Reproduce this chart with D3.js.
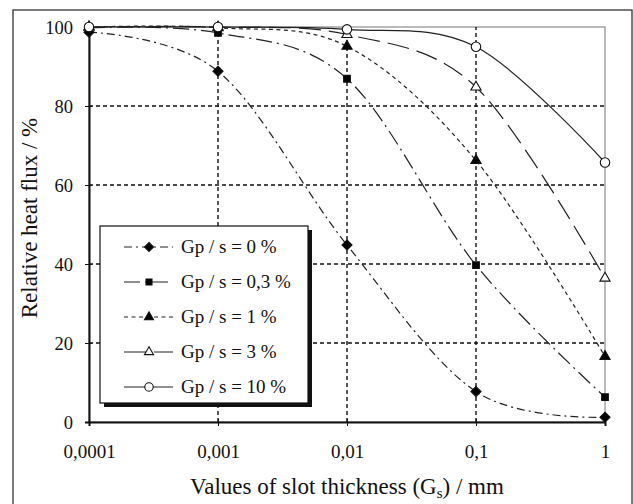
<!DOCTYPE html>
<html>
<head>
<meta charset="utf-8">
<script src="https://cdn.jsdelivr.net/npm/d3@7"></script>
<style>
  body { margin: 0; background: #fff; }
  svg text { font-family: "Liberation Serif", "Times New Roman", serif; fill: #111; }
</style>
</head>
<body>
<script>
// values
const thickness = [0.0001, 0.001, 0.01, 0.1, 1];
const xTickLabels = ["0,0001", "0,001", "0,01", "0,1", "1"];
const yTicks = [0, 20, 40, 60, 80, 100];
const gp0 = [98.7, 88.8, 44.8, 7.7, 1.2];
const gp03 = [99.8, 98.5, 86.9, 39.7, 6.3];
const gp1 = [100, 99.8, 95.1, 66.2, 16.6];
const gp3 = [100, 100, 98.1, 84.8, 36.4];
const gp10 = [100, 100, 99.4, 95.0, 65.7];
const seriesNames = ["Gp / s = 0 %", "Gp / s = 0,3 %", "Gp / s = 1 %", "Gp / s = 3 %", "Gp / s = 10 %"];

const diamond = { draw(ctx, size) { const r = Math.sqrt(size) / 2 * 1.3; ctx.moveTo(0, -r); ctx.lineTo(r, 0); ctx.lineTo(0, r); ctx.lineTo(-r, 0); ctx.closePath(); } };

const series = [
  { name: seriesNames[0], values: gp0, dash: "8,4,2,4", marker: diamond, size: 60, fill: "#000" },
  { name: seriesNames[1], values: gp03, dash: "16,5,2,5", marker: d3.symbolSquare, size: 45, fill: "#000" },
  { name: seriesNames[2], values: gp1, dash: "4,3.5", marker: d3.symbolTriangle, size: 45, fill: "#000" },
  { name: seriesNames[3], values: gp3, dash: "22,8", marker: d3.symbolTriangle, size: 45, fill: "#fff" },
  { name: seriesNames[4], values: gp10, dash: null, marker: d3.symbolCircle, size: 70, fill: "#fff" }
];

const W = 633, H = 504;
const svg = d3.select("body").append("svg").attr("width", W).attr("height", H);

// outer frame
svg.append("rect").attr("x", 13).attr("y", 10).attr("width", 619).attr("height", 510)
  .attr("fill", "none").attr("stroke", "#333").attr("stroke-width", 1.3);

const x = d3.scaleLog().domain([0.0001, 1]).range([89, 605]);
const y = d3.scaleLinear().domain([0, 100]).range([422, 27]);

// plot border (top/right)
svg.append("rect").attr("x", x(0.0001)).attr("y", y(100))
  .attr("width", x(1) - x(0.0001)).attr("height", y(0) - y(100))
  .attr("fill", "none").attr("stroke", "#777").attr("stroke-width", 1);

// grid
svg.append("g").selectAll("line").data(yTicks.filter(d => d > 0 && d < 100)).join("line")
  .attr("x1", x(0.0001)).attr("x2", x(1)).attr("y1", d => y(d)).attr("y2", d => y(d))
  .attr("stroke", "#111").attr("stroke-width", 1.4).attr("stroke-dasharray", "4,3");
svg.append("g").selectAll("line").data(thickness.slice(1, 4)).join("line")
  .attr("x1", d => x(d)).attr("x2", d => x(d)).attr("y1", y(0)).attr("y2", y(100))
  .attr("stroke", "#111").attr("stroke-width", 1.4).attr("stroke-dasharray", "4,3");

// axes
const xAxis = d3.axisBottom(x).tickValues(thickness).tickSize(4)
  .tickFormat((d, i) => xTickLabels[i]);
const gx = svg.append("g").attr("transform", `translate(0,${y(0)})`).call(xAxis);
gx.select(".domain").attr("stroke", "#111").attr("stroke-width", 2);
gx.selectAll(".tick line").attr("stroke", "#111").attr("y1", -3);
gx.selectAll(".tick text").attr("dy", 0).attr("y", 36).style("font-size", "19px")
  .style("font-family", "Liberation Serif");

const yAxis = d3.axisLeft(y).tickValues(yTicks).tickSize(4);
const gy = svg.append("g").attr("transform", `translate(${x(0.0001)},0)`).call(yAxis);
gy.select(".domain").attr("stroke", "#111").attr("stroke-width", 2);
gy.selectAll(".tick line").attr("stroke", "#111").attr("x1", 3);
gy.selectAll(".tick text").attr("x", -16).attr("dy", "0.34em").style("font-size", "18.5px")
  .style("font-family", "Liberation Serif");

// axis titles
const xt = svg.append("text").attr("x", 347).attr("y", 494).attr("text-anchor", "middle")
  .style("font-size", "23px");
xt.append("tspan").text("Values of slot thickness (G");
xt.append("tspan").text("s").attr("dy", 4).style("font-size", "15px");
xt.append("tspan").text(") / mm").attr("dy", -4);

svg.append("text").attr("transform", "translate(37,218) rotate(-90)")
  .attr("text-anchor", "middle").style("font-size", "23px")
  .text("Relative heat flux / %");

// lines
const line = d3.line().x((d, i) => x(thickness[i])).y(d => y(d)).curve(d3.curveCardinal.tension(0));
const plot = svg.append("g");
series.forEach(s => {
  plot.append("path").datum(s.values).attr("d", line)
    .attr("fill", "none").attr("stroke", "#222").attr("stroke-width", 1.2)
    .attr("stroke-dasharray", s.dash);
});
series.forEach(s => {
  plot.append("g").selectAll("path").data(s.values).join("path")
    .attr("transform", (d, i) => `translate(${x(thickness[i])},${y(d)})`)
    .attr("d", d3.symbol().type(s.marker).size(s.size))
    .attr("fill", s.fill).attr("stroke", "#111").attr("stroke-width", 1.1);
});

// legend
const lg = svg.append("g").attr("transform", "translate(100,226)");
lg.append("rect").attr("x", 4).attr("y", 4).attr("width", 208).attr("height", 177).attr("fill", "#111");
lg.append("rect").attr("x", 0).attr("y", 0).attr("width", 208).attr("height", 177)
  .attr("fill", "#fff").attr("stroke", "#111").attr("stroke-width", 1.2);
series.forEach((s, i) => {
  const cy = 21 + i * 35;
  lg.append("line").attr("x1", 24).attr("x2", 73).attr("y1", cy).attr("y2", cy)
    .attr("stroke", "#222").attr("stroke-width", 1.2).attr("stroke-dasharray", s.dash);
  lg.append("path").attr("transform", `translate(49,${cy})`)
    .attr("d", d3.symbol().type(s.marker).size(s.size * 0.8))
    .attr("fill", s.fill).attr("stroke", "#111").attr("stroke-width", 1.1);
  lg.append("text").attr("x", 81).attr("y", cy + 6).style("font-size", "19px").text(s.name);
});
</script>
</body>
</html>
